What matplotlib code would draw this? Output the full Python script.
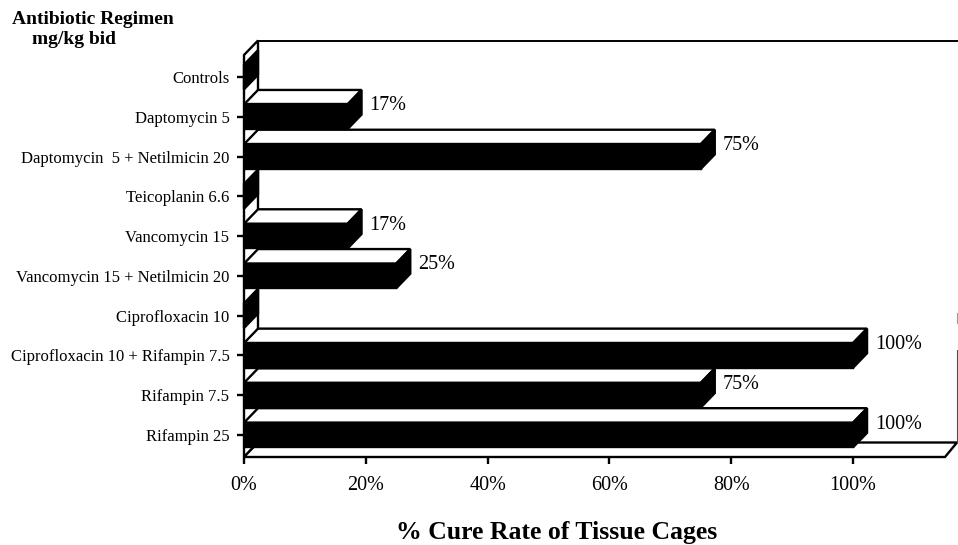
import matplotlib
matplotlib.use('Agg')
import matplotlib.pyplot as plt
from matplotlib.patches import Polygon

plt.rcParams['font.family'] = ['Liberation Serif', 'DejaVu Serif']

categories = ['Controls', 'Daptomycin 5', 'Daptomycin  5 + Netilmicin 20', 'Teicoplanin 6.6',
              'Vancomycin 15', 'Vancomycin 15 + Netilmicin 20', 'Ciprofloxacin 10',
              'Ciprofloxacin 10 + Rifampin 7.5', 'Rifampin 7.5', 'Rifampin 25']
cure_rate = [0, 17, 75, 0, 17, 25, 0, 100, 75, 100]
x_ticks = [0, 20, 40, 60, 80, 100]
x_labels = ['0%', '20%', '40%', '60%', '80%', '100%']

W, H = 958, 545
fig = plt.figure(figsize=(W / 100, H / 100), dpi=100, facecolor='white')
# axes = front plane of the fake 3d box, in pixels
ax = fig.add_axes([244 / W, (H - 457) / H, 701 / W, 402 / H])
ax.set_xlim(0, 115.1)
ax.set_ylim(9.553, -0.553)
for s in ax.spines.values():
    s.set_visible(False)
ax.patch.set_visible(False)

# depth offset of the 3d effect, data units
dx = 14 / 6.09
dy = -14.5 / 39.8
bar_h = 0.62
lw = 1.7
xmax = 115.1
top = -0.553
bot = 9.553
back_right = xmax + 12 / 6.09

def poly(pts, fc, z, lw_=lw):
    ax.add_patch(Polygon(pts, closed=True, facecolor=fc, edgecolor='black', linewidth=lw_,
                         zorder=z, clip_on=False, joinstyle='miter'))

# left wall and floor
poly([(0, top), (dx, top + dy), (dx, bot + dy), (0, bot)], 'white', 1)
poly([(0, bot), (dx, bot + dy), (back_right, bot + dy), (xmax, bot)], 'white', 1)
# back wall, open on the top right
ax.plot([dx, xmax + dx], [top + dy, top + dy], color='black', lw=1.4, zorder=1, clip_on=False)
ax.plot([back_right, back_right], [5.93, 6.18], color='0.6', lw=0.8, zorder=1, clip_on=False)
ax.plot([back_right, back_right], [6.86, bot + dy], color='0.3', lw=0.8, zorder=1, clip_on=False)

z = 3
for i, v in enumerate(cure_rate):
    y0 = i - bar_h / 2
    y1 = i + bar_h / 2
    if v > 0:
        poly([(0, y0), (dx, y0 + dy), (v + dx, y0 + dy), (v, y0)], 'white', z)
    poly([(v, y0), (v + dx, y0 + dy), (v + dx, y1 + dy), (v, y1)], 'black', z)
    z += 1
    if v > 0:
        ax.barh(i, v, height=bar_h, color='black', edgecolor='black', linewidth=lw, zorder=z)
        ax.annotate(f'{v}%', xy=(v + dx, i), xytext=(8, 11), textcoords='offset pixels',
                    ha='left', va='center', fontsize=14.5, color='black', zorder=20)
    z += 1

ax.set_yticks(range(len(categories)))
ax.set_yticklabels(categories, fontsize=12)
ax.set_xticks(x_ticks)
ax.set_xticklabels(x_labels, fontsize=14.5)
ax.tick_params(axis='y', length=5, width=1.7, pad=5.5)
ax.tick_params(axis='x', length=5, width=1.7, pad=8.5)

fig.text(12 / W, 1 - 19 / H, 'Antibiotic Regimen', fontsize=14, fontweight='bold', ha='left', va='center')
fig.text(32 / W, 1 - 40 / H, 'mg/kg bid', fontsize=14, fontweight='bold', ha='left', va='center')
fig.text(557 / W, 1 - 533 / H, '% Cure Rate of Tissue Cages', fontsize=18.5, fontweight='bold', ha='center', va='center')

fig.savefig('out.png', dpi=100, facecolor='white')
